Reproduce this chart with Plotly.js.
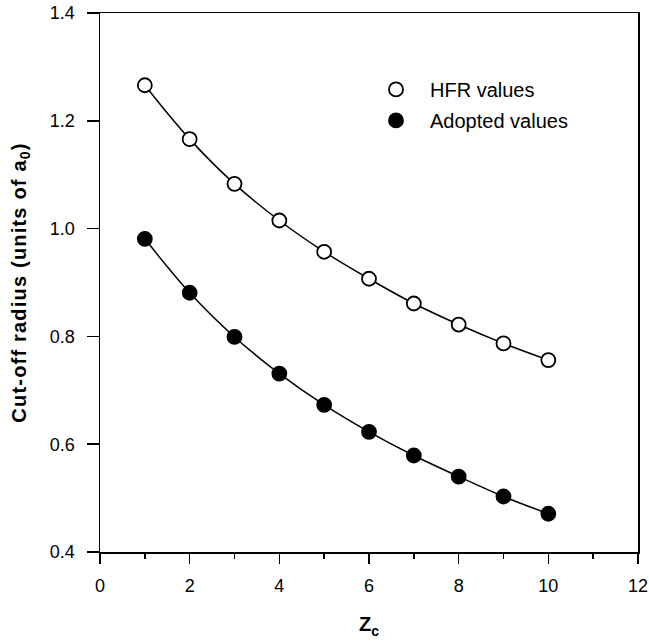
<!DOCTYPE html>
<html>
<head>
<meta charset="utf-8">
<script src="https://cdn.plot.ly/plotly-3.0.1.min.js"></script>
<style>
html,body{margin:0;padding:0;background:#fff;}
#chart{width:649px;height:641px;}
.ytitle{letter-spacing:1.2px;}
</style>
</head>
<body>
<div id="chart"></div>
<script>
// Data
const zc = [1, 2, 3, 4, 5, 6, 7, 8, 9, 10];
const hfrValues = [1.266, 1.166, 1.083, 1.015, 0.957, 0.907, 0.861, 0.822, 0.787, 0.756];
const adoptedValues = [0.981, 0.881, 0.799, 0.731, 0.673, 0.623, 0.579, 0.540, 0.503, 0.471];
const seriesNames = ["HFR values", "Adopted values"];
const xTicks = [0, 2, 4, 6, 8, 10, 12];
const yTicks = [0.4, 0.6, 0.8, 1.0, 1.2, 1.4];

const FONT = "Liberation Sans, Arial, Helvetica, sans-serif";

const traces = [
  {x: zc, y: hfrValues, mode: "lines", line: {shape: "spline", smoothing: 1, color: "#000", width: 1.5},
   showlegend: false, hoverinfo: "skip"},
  {x: zc, y: adoptedValues, mode: "lines", line: {shape: "spline", smoothing: 1, color: "#000", width: 1.5},
   showlegend: false, hoverinfo: "skip"},
  {x: zc, y: hfrValues, mode: "markers", name: "\u2002\u2009" + seriesNames[0], legendgroup: "a",
   marker: {symbol: "circle", size: 14, color: "#fff", line: {color: "#000", width: 1.8}}},
  {x: zc, y: adoptedValues, mode: "markers", name: "\u2002\u2009" + seriesNames[1], legendgroup: "b",
   marker: {symbol: "circle", size: 14, color: "#000", line: {color: "#000", width: 1.8}}}
];

const layout = {
  width: 649, height: 641,
  margin: {l: 100, r: 11, t: 13, b: 89},
  paper_bgcolor: "#fff", plot_bgcolor: "#fff",
  font: {family: FONT, color: "#000", size: 18},
  showlegend: true,
  legend: {x: 0.513, y: 0.8944, xanchor: "left", yanchor: "top", bgcolor: "rgba(0,0,0,0)",
           font: {family: FONT, size: 20, color: "#000"}, tracegroupgap: 2, itemsizing: "trace"},
  xaxis: {
    range: [0, 12], tickvals: xTicks, ticktext: xTicks.map(String),
    ticks: "outside", ticklen: 10, tickwidth: 1.5, tickcolor: "#000",
    minor: {dtick: 1, tick0: 0, ticks: "outside", ticklen: 5, tickwidth: 1.5, tickcolor: "#000"},
    showline: true, linecolor: "#000", linewidth: 1.5, mirror: true,
    showgrid: false, zeroline: false, ticklabelstandoff: 7,
    tickfont: {family: FONT, size: 18, color: "#000"},
    title: {text: "<b>Z<sub>c</sub></b>", font: {family: FONT, size: 20, color: "#000"}, standoff: 22}
  },
  yaxis: {
    range: [0.4, 1.4], tickvals: yTicks, ticktext: yTicks.map(v => v.toFixed(1)),
    ticks: "outside", ticklen: 12, tickwidth: 1.5, tickcolor: "#000",
    showline: true, linecolor: "#000", linewidth: 1.5, mirror: true,
    showgrid: false, zeroline: false, ticklabelstandoff: 8,
    tickfont: {family: FONT, size: 18, color: "#000"},
    title: {text: "<b>Cut-off radius (units of a<sub>0</sub>)</b>", font: {family: FONT, size: 20, color: "#000"}, standoff: 18}
  }
};

Plotly.newPlot("chart", traces, layout, {displayModeBar: false, staticPlot: true});
</script>
</body>
</html>
